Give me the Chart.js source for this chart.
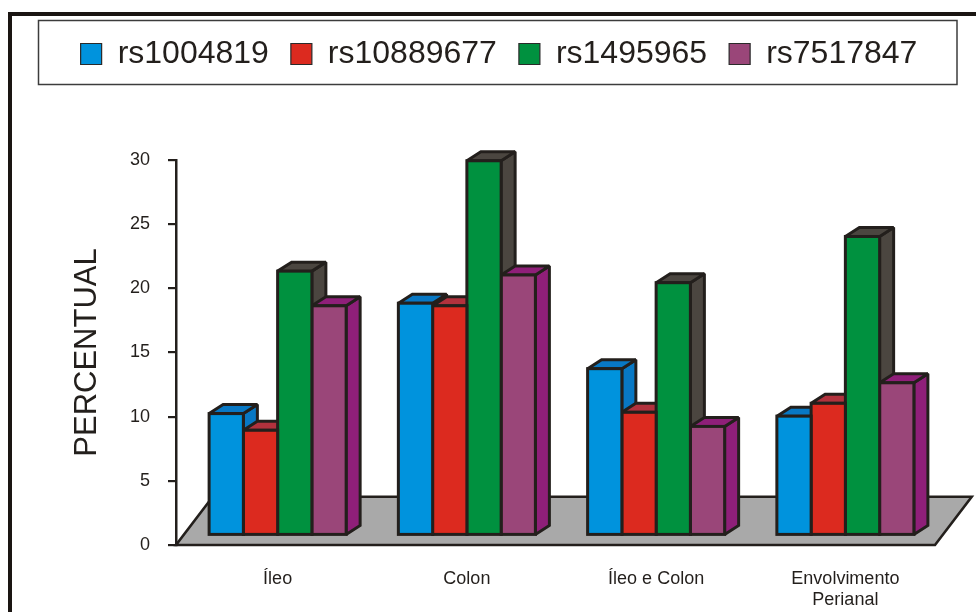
<!DOCTYPE html>
<html>
<head>
<meta charset="utf-8">
<script src="https://cdn.jsdelivr.net/npm/chart.js@4.4.1/dist/chart.umd.min.js"></script>
<style>
  html, body { margin: 0; padding: 0; background: #ffffff; }
  canvas { display: block; }
</style>
</head>
<body>
<canvas id="chart" width="976" height="612"></canvas>
<script>
// Categories and series values (percent)
const categories = ['Íleo', 'Colon', 'Íleo e Colon', ['Envolvimento', 'Perianal']];
const seriesNames = ['rs1004819', 'rs10889677', 'rs1495965', 'rs7517847'];
const rs1004819  = [9.5, 18.1, 13.0, 9.3];
const rs10889677 = [8.2, 17.9, 9.6, 10.3];
const rs1495965  = [20.6, 29.2, 19.7, 23.3];
const rs7517847  = [17.9, 20.3, 8.5, 11.9];
const yTicks = { min: 0, max: 30, step: 5 };

// Face colours: front, top, side
const frontColors = ['#0093dd', '#dc2a1f', '#00913f', '#9a4679'];
const topColors   = ['#0878c4', '#b2323d', '#4b4640', '#8f1f79'];
const sideColors  = ['#0878c4', '#b2323d', '#4b4640', '#8f1f79'];

const INK = '#231f1c';
const BAR_DEPTH = { dx: 14, dy: -9 };      // extrusion of each bar
const BAR_SHIFT = { dx: 7, dy: -9.5 };     // bar row set back on the floor
const FLOOR_DEPTH = { dx: 36.7, dy: -48.3 };

// Chart.js paints datasets from last to first, so each bar's depth faces are
// slipped underneath what is already painted (destination-over); the bars to
// its right then hide them correctly. The floor goes underneath at the end.
const pseudo3d = {
  id: 'pseudo3d',
  beforeDraw(chart) {
    const ctx = chart.ctx;
    ctx.save();
    // outer frame (top and left)
    ctx.strokeStyle = '#1a1512';
    ctx.lineWidth = 4;
    ctx.beginPath();
    ctx.moveTo(10, 612);
    ctx.lineTo(10, 14);
    ctx.lineTo(976, 14);
    ctx.stroke();
    // legend frame
    ctx.strokeStyle = '#3c3c3c';
    ctx.lineWidth = 1.5;
    ctx.strokeRect(38.5, 20.5, 918.5, 64);
    ctx.restore();
  },
  beforeDatasetDraw(chart) {
    const ctx = chart.ctx;
    ctx.save();
    ctx.translate(BAR_SHIFT.dx, BAR_SHIFT.dy);
  },
  afterDatasetDraw(chart, args) {
    const ctx = chart.ctx;
    const i = args.index;
    const { dx, dy } = BAR_DEPTH;
    ctx.strokeStyle = INK;
    ctx.lineWidth = 3;
    ctx.lineJoin = 'miter';
    ctx.miterLimit = 2;
    const bars = args.meta.data.map(bar => bar.getProps(['x', 'y', 'base', 'width'], true));
    // front outlines
    bars.forEach(({ x, y, base, width }) => {
      ctx.strokeRect(x - width / 2, y, width, base - y);
    });
    // top and side faces, behind what is already painted
    ctx.globalCompositeOperation = 'destination-over';
    bars.forEach(({ x, y, base, width }) => {
      const l = x - width / 2, r = x + width / 2;
      ctx.beginPath();
      ctx.moveTo(l, y);
      ctx.lineTo(l + dx, y + dy);
      ctx.lineTo(r + dx, y + dy);
      ctx.lineTo(r, y);
      ctx.closePath();
      ctx.stroke();
      ctx.fillStyle = topColors[i];
      ctx.fill();

      ctx.beginPath();
      ctx.moveTo(r, base);
      ctx.lineTo(r + dx, base + dy);
      ctx.lineTo(r + dx, y + dy);
      ctx.lineTo(r, y);
      ctx.closePath();
      ctx.stroke();
      ctx.fillStyle = sideColors[i];
      ctx.fill();
    });
    ctx.restore();
  },
  afterDatasetsDraw(chart) {
    const ctx = chart.ctx;
    const area = chart.chartArea;
    const y0 = chart.scales.y.getPixelForValue(0);
    const l = area.left, r = area.right + 2;
    ctx.save();
    ctx.globalCompositeOperation = 'destination-over';
    ctx.beginPath();
    ctx.moveTo(l, y0);
    ctx.lineTo(r, y0);
    ctx.lineTo(r + FLOOR_DEPTH.dx, y0 + FLOOR_DEPTH.dy);
    ctx.lineTo(l + FLOOR_DEPTH.dx, y0 + FLOOR_DEPTH.dy);
    ctx.closePath();
    ctx.strokeStyle = INK;
    ctx.lineWidth = 2.6;
    ctx.lineJoin = 'miter';
    ctx.miterLimit = 3;
    ctx.stroke();
    ctx.fillStyle = '#a9a9a9';
    ctx.fill();
    ctx.restore();
  }
};

Chart.defaults.font.family = "'Liberation Sans', Arial, Helvetica, sans-serif";
Chart.defaults.color = INK;

const seriesValues = [rs1004819, rs10889677, rs1495965, rs7517847];

new Chart(document.getElementById('chart'), {
  type: 'bar',
  data: {
    labels: categories,
    datasets: seriesNames.map((name, i) => ({
      label: name,
      data: seriesValues[i],
      backgroundColor: frontColors[i],
      borderWidth: 0,
      barPercentage: 1.0,
      categoryPercentage: 0.724,
      clip: false
    }))
  },
  plugins: [pseudo3d],
  options: {
    responsive: false,
    animation: false,
    events: [],
    layout: { padding: { top: 16, left: 22, right: 0, bottom: 0 } },
    plugins: {
      tooltip: { enabled: false },
      legend: {
        position: 'top',
        align: 'center',
        weight: 1000,
        labels: {
          font: { size: 32 },
          color: INK,
          boxWidth: 21,
          boxHeight: 21,
          padding: 22,
          generateLabels(chart) {
            return Chart.defaults.plugins.legend.labels.generateLabels(chart).map(item => ({
              ...item, lineWidth: 1.2, strokeStyle: '#2a2a2a'
            }));
          }
        }
      },
      // empty block that keeps the gap between the legend and the plot
      title: {
        display: true,
        text: '',
        position: 'top',
        weight: 500,
        font: { size: 10, lineHeight: 1 },
        padding: { top: 0, bottom: 70 }
      }
    },
    scales: {
      x: {
        offset: true,
        grid: { display: false, drawTicks: false },
        border: { display: false },
        ticks: {
          font: { size: 18 },
          color: INK,
          padding: 23,
          labelOffset: 7,
          maxRotation: 0,
          autoSkip: false
        },
        afterFit(scale) {
          scale.height = 67;
          scale.paddingRight = 43;
        }
      },
      y: {
        min: yTicks.min,
        max: yTicks.max,
        ticks: {
          stepSize: yTicks.step,
          font: { size: 18 },
          color: INK,
          padding: 18
        },
        grid: {
          drawOnChartArea: false,
          drawTicks: true,
          tickLength: 8,
          color: INK,
          lineWidth: 2.2
        },
        border: { display: true, color: INK, width: 2.5 },
        title: {
          display: true,
          text: 'PERCENTUAL',
          font: { size: 31 },
          color: INK,
          padding: { top: 47, bottom: 0 }
        },
        afterFit(scale) {
          scale.width = 154;
        }
      }
    }
  }
});
</script>
</body>
</html>
